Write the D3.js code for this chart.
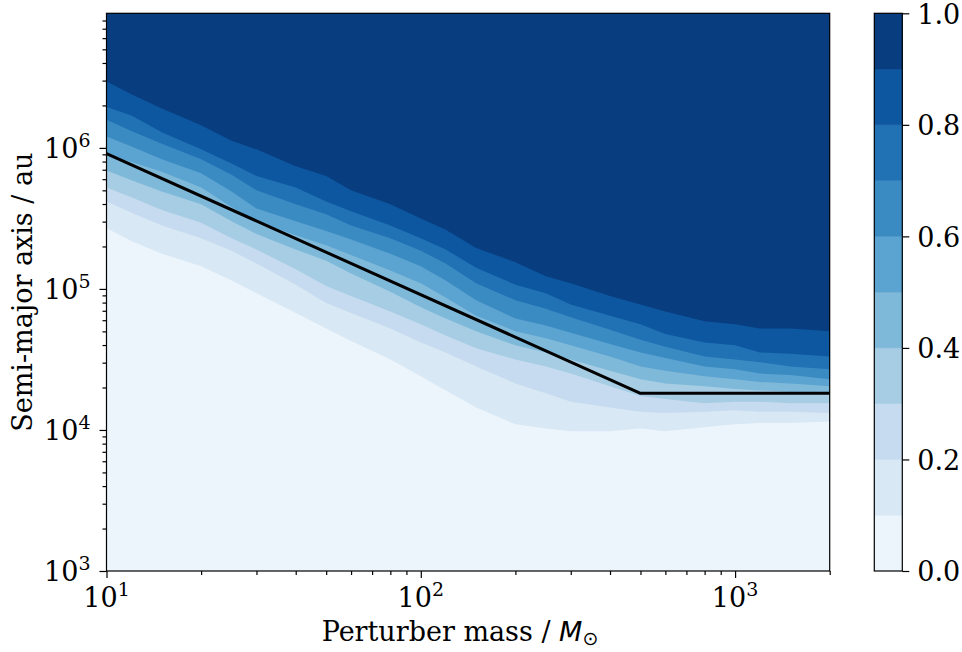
<!DOCTYPE html>
<meta charset="utf-8">
<style>
body { margin: 0; background: #fff; }
svg text { font-family: "DejaVu Serif", serif; fill: #000; }
.axis path, .axis line { fill: none; stroke: #000; stroke-width: 1.2; }
</style>
<body>
<script src="https://cdn.jsdelivr.net/npm/d3@7"></script>
<script>

// perturber masses (Msun) where the contour edges were read
var masses = [10, 12, 15, 20, 25, 30, 40, 50, 60, 80, 100, 120, 150, 200, 250, 300, 400, 500, 600, 800, 1000, 1200, 1500, 2000];

// log10 of semi-major axis (au) where the fraction crosses each level
var edge01 = [5.43, 5.34, 5.25, 5.16, 5.06, 4.97, 4.83, 4.72, 4.63, 4.50, 4.38, 4.28, 4.16, 4.04, 4.01, 3.99, 3.99, 4.01, 3.99, 4.02, 4.04, 4.05, 4.05, 4.06];
var edge02 = [5.62, 5.54, 5.45, 5.36, 5.27, 5.18, 5.03, 4.90, 4.83, 4.72, 4.62, 4.55, 4.45, 4.33, 4.26, 4.20, 4.16, 4.13, 4.12, 4.13, 4.14, 4.13, 4.13, 4.12];
var edge03 = [5.72, 5.65, 5.56, 5.47, 5.36, 5.28, 5.14, 5.02, 4.95, 4.84, 4.75, 4.67, 4.58, 4.50, 4.45, 4.40, 4.31, 4.24, 4.22, 4.19, 4.20, 4.20, 4.19, 4.19];
var edge04 = [5.84, 5.77, 5.69, 5.60, 5.48, 5.39, 5.28, 5.20, 5.11, 4.98, 4.87, 4.79, 4.70, 4.60, 4.55, 4.50, 4.42, 4.36, 4.33, 4.31, 4.29, 4.28, 4.27, 4.26];
var edge05 = [5.95, 5.90, 5.83, 5.72, 5.58, 5.48, 5.38, 5.31, 5.24, 5.13, 5.04, 4.94, 4.81, 4.70, 4.65, 4.60, 4.52, 4.45, 4.42, 4.38, 4.36, 4.34, 4.33, 4.31];
var edge06 = [6.08, 6.01, 5.92, 5.82, 5.69, 5.57, 5.48, 5.41, 5.35, 5.25, 5.16, 5.06, 4.92, 4.79, 4.74, 4.69, 4.61, 4.55, 4.51, 4.45, 4.43, 4.40, 4.39, 4.36];
var edge07 = [6.20, 6.12, 6.03, 5.92, 5.81, 5.70, 5.60, 5.53, 5.45, 5.36, 5.27, 5.18, 5.04, 4.92, 4.86, 4.80, 4.71, 4.64, 4.59, 4.52, 4.50, 4.48, 4.45, 4.43];
var edge08 = [6.29, 6.23, 6.11, 5.99, 5.89, 5.80, 5.72, 5.62, 5.55, 5.45, 5.36, 5.28, 5.15, 5.03, 4.97, 4.89, 4.81, 4.75, 4.68, 4.62, 4.60, 4.55, 4.54, 4.52];
var edge09 = [6.47, 6.38, 6.28, 6.16, 6.05, 5.99, 5.87, 5.80, 5.70, 5.60, 5.50, 5.42, 5.29, 5.19, 5.09, 5.04, 4.95, 4.89, 4.84, 4.77, 4.75, 4.72, 4.72, 4.70];

var levels = [0, 0.1, 0.2, 0.3, 0.4, 0.5, 0.6, 0.7, 0.8, 0.9, 1.0];

// black limit line
var lineMass = [10, 500, 2000];
var lineA = [9.1e5, 1.82e4, 1.82e4];

var xTicks = [10, 100, 1000];
var yTicks = [1e3, 1e4, 1e5, 1e6];
var cbTicks = [0, 0.2, 0.4, 0.6, 0.8, 1.0];

var edges = [edge01, edge02, edge03, edge04, edge05, edge06, edge07, edge08, edge09];

var W = 962, H = 652;
var margin = {top: 13.3, left: 106.5},
    width = 829.7 - 106.5,
    height = 571 - 13.3;

// matplotlib "Blues"
var blues = d3.scaleLinear()
  .domain([0, 0.125, 0.25, 0.375, 0.5, 0.625, 0.75, 0.875, 1])
  .range(["#f7fbff", "#deebf7", "#c6dbef", "#9ecae1", "#6baed6", "#4292c6", "#2171b5", "#08519c", "#08306b"]);

function bandColor(i) {
  return blues((levels[i] + levels[i + 1]) / 2);
}

var x = d3.scaleLog().domain([10, 2000]).range([0, width]);
var y = d3.scaleLog().domain([1e3, 9e6]).range([height, 0]);

var svg = d3.select("body").append("svg")
    .attr("width", W)
    .attr("height", H);

svg.append("defs").append("clipPath").attr("id", "clip")
  .append("rect").attr("width", width).attr("height", height);

var chart = svg.append("g")
    .attr("transform", "translate(" + margin.left + "," + margin.top + ")");

var bands = chart.append("g").attr("clip-path", "url(#clip)");

bands.append("rect")
  .attr("width", width)
  .attr("height", height)
  .attr("fill", bandColor(0));

var area = d3.area()
  .x(function(d) { return x(d.m); })
  .y0(0)
  .y1(function(d) { return y(Math.pow(10, d.a)); });

edges.forEach(function(e, k) {
  var pts = masses.map(function(m, i) { return {m: m, a: e[i]}; });
  bands.append("path")
    .datum(pts)
    .attr("d", area)
    .attr("fill", bandColor(k + 1));
});

var line = d3.line()
  .x(function(d) { return x(d[0]); })
  .y(function(d) { return y(d[1]); });

chart.append("path")
  .datum(lineMass.map(function(m, i) { return [m, lineA[i]]; }))
  .attr("d", line)
  .attr("fill", "none")
  .attr("stroke", "#000")
  .attr("stroke-width", 3)
  .attr("stroke-linejoin", "round");

// minor ticks
function minors(lo, hi) {
  var out = [];
  for (var p = Math.pow(10, Math.floor(Math.log10(lo))); p < hi; p *= 10) {
    for (var k = 2; k < 10; k++) {
      var v = k * p;
      if (v > lo && v < hi) out.push(v);
    }
  }
  return out;
}

chart.append("g").attr("class", "axis")
  .attr("transform", "translate(0," + height + ")")
  .call(d3.axisBottom(x).tickValues(minors(10, 2000.5)).tickSize(4).tickFormat(""))
  .select(".domain").remove();
chart.append("g").attr("class", "axis")
  .call(d3.axisLeft(y).tickValues(minors(1e3, 9e6)).tickSize(4).tickFormat(""))
  .select(".domain").remove();

chart.append("g").attr("class", "axis")
  .attr("transform", "translate(0," + height + ")")
  .call(d3.axisBottom(x).tickValues(xTicks).tickSize(7).tickFormat(""))
  .select(".domain").remove();
chart.append("g").attr("class", "axis")
  .call(d3.axisLeft(y).tickValues(yTicks).tickSize(7).tickFormat(""))
  .select(".domain").remove();

// frame
chart.append("rect")
  .attr("width", width).attr("height", height)
  .attr("fill", "none").attr("stroke", "#000").attr("stroke-width", 1.2);

function powerLabel(sel, v) {
  sel.append("tspan").text("10");
  sel.append("tspan")
    .attr("font-size", "19px")
    .attr("dy", -11)
    .text(Math.round(Math.log10(v)));
}

chart.selectAll(".xlab").data(xTicks).enter().append("text")
  .attr("x", function(d) { return x(d); })
  .attr("y", height + 36)
  .attr("text-anchor", "middle")
  .style("font-size", "27px")
  .each(function(d) { powerLabel(d3.select(this), d); });

chart.selectAll(".ylab").data(yTicks).enter().append("text")
  .attr("x", -16)
  .attr("y", function(d) { return y(d) + 10; })
  .attr("text-anchor", "end")
  .style("font-size", "27px")
  .each(function(d) { powerLabel(d3.select(this), d); });

// axis titles
var xt = svg.append("text")
  .attr("x", 460)
  .attr("y", 641)
  .attr("text-anchor", "middle")
  .style("font-size", "27px");
xt.append("tspan").text("Perturber mass / ");
xt.append("tspan").style("font-family", "DejaVu Sans").style("font-style", "italic").text("M");
xt.append("tspan").style("font-family", "DejaVu Sans").attr("font-size", "19px").attr("dy", 4).text("\u2299");

svg.append("text")
  .attr("transform", "translate(32," + (margin.top + height / 2) + ") rotate(-90)")
  .attr("text-anchor", "middle")
  .style("font-size", "27px")
  .text("Semi-major axis / au");

// colorbar
var cbX = 874.3, cbW = 28;
var cb = svg.append("g").attr("transform", "translate(" + cbX + "," + margin.top + ")");
var c = d3.scaleLinear().domain([0, 1]).range([height, 0]);

cb.selectAll("rect.band").data(d3.range(levels.length - 1)).enter().append("rect")
  .attr("class", "band")
  .attr("x", 0)
  .attr("width", cbW)
  .attr("y", function(i) { return c(levels[i + 1]); })
  .attr("height", function(i) { return c(levels[i]) - c(levels[i + 1]); })
  .attr("fill", function(i) { return bandColor(i); })
  .attr("stroke", function(i) { return bandColor(i); })
  .attr("stroke-width", 0.5);

cb.append("rect")
  .attr("width", cbW).attr("height", height)
  .attr("fill", "none").attr("stroke", "#000").attr("stroke-width", 1.2);

var cbAxis = cb.append("g").attr("class", "axis")
  .attr("transform", "translate(" + cbW + ",0)")
  .call(d3.axisRight(c).tickValues(cbTicks).tickSize(7).tickPadding(8).tickFormat(d3.format(".1f")));
cbAxis.select(".domain").remove();
cbAxis.selectAll("text")
  .style("font-family", "DejaVu Serif")
  .style("font-size", "27px")
  .attr("dy", "0.36em");

</script>
</body>
